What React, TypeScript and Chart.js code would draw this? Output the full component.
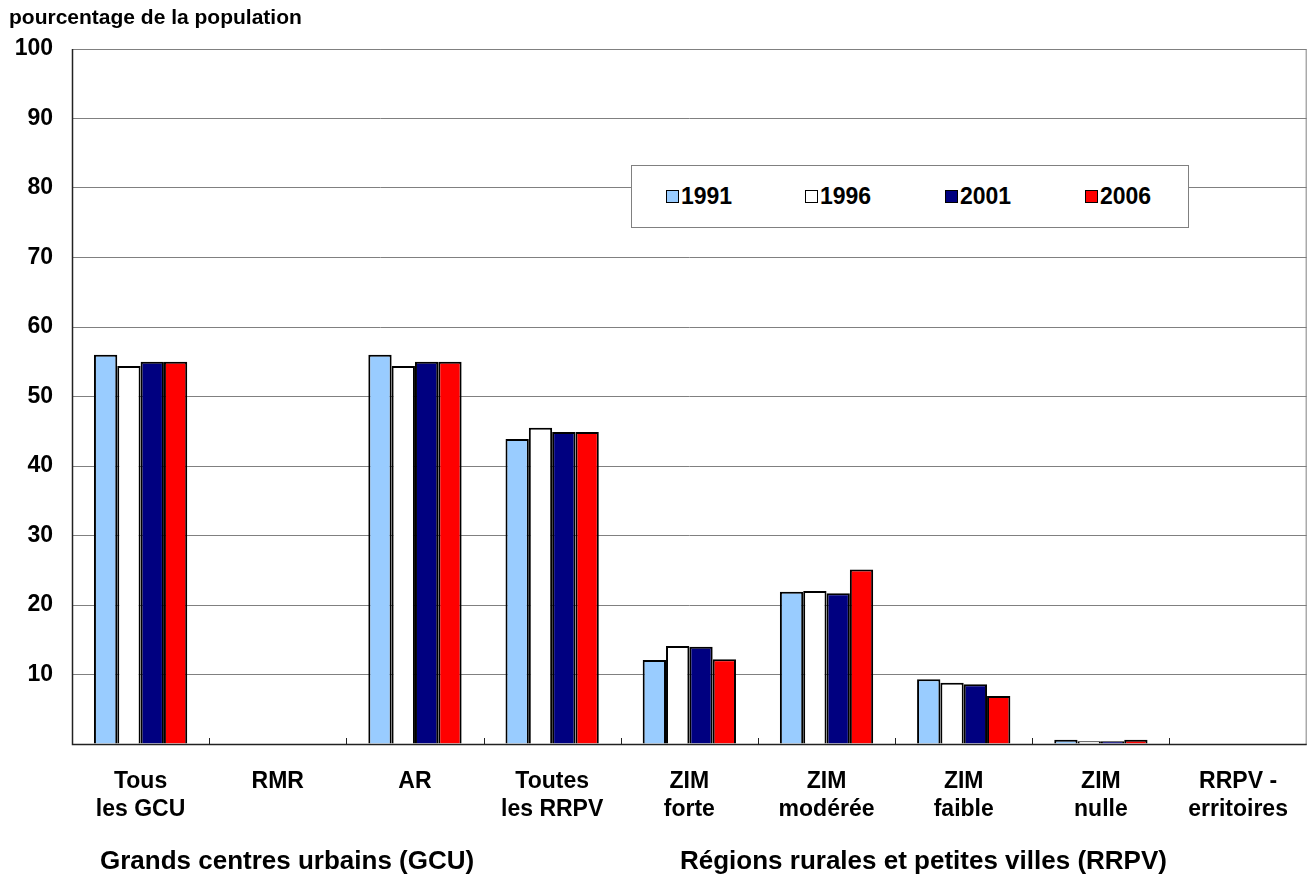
import React, { useEffect, useRef } from "react";
import { Chart, registerables } from "chart.js";

Chart.register(...registerables);

const categories: (string | string[])[] = [
  ["Tous", "les GCU"],
  "RMR",
  "AR",
  ["Toutes", "les RRPV"],
  ["ZIM", "forte"],
  ["ZIM", "modérée"],
  ["ZIM", "faible"],
  ["ZIM", "nulle"],
  ["RRPV -", "erritoires"],
];

const seriesNames = ["1991", "1996", "2001", "2006"];
const seriesColors = ["#99CCFF", "#FFFFFF", "#000080", "#FF0000"];

const values1991 = [56.0, null, 56.0, 43.9, 12.1, 21.9, 9.3, 0.6, null];
const values1996 = [54.4, null, 54.4, 45.5, 14.1, 22.0, 8.8, 0.4, null];
const values2001 = [55.0, null, 55.0, 44.9, 14.0, 21.7, 8.6, 0.4, null];
const values2006 = [55.0, null, 55.0, 44.9, 12.2, 25.1, 6.9, 0.6, null];

const yTicks = [10, 20, 30, 40, 50, 60, 70, 80, 90, 100];

const groupLabels = ["Grands centres urbains (GCU)", "Régions rurales et petites villes (RRPV)"];

const FONT = "'Liberation Sans', Arial, sans-serif";

const framePlugin = {
  id: "frame",
  afterDatasetsDraw(chart: any) {
    const { ctx, chartArea } = chart;
    const x = chart.scales.x;
    ctx.save();
    ctx.strokeStyle = "#808080";
    ctx.lineWidth = 1;
    ctx.beginPath();
    ctx.moveTo(chartArea.left, chartArea.top + 0.5);
    ctx.lineTo(chartArea.right - 0.5, chartArea.top + 0.5);
    ctx.lineTo(chartArea.right - 0.5, chartArea.bottom);
    ctx.stroke();
    ctx.strokeStyle = "#222222";
    ctx.lineWidth = 1.5;
    ctx.beginPath();
    ctx.moveTo(chartArea.left + 0.5, chartArea.top);
    ctx.lineTo(chartArea.left + 0.5, chartArea.bottom + 0.5);
    ctx.lineTo(chartArea.right, chartArea.bottom + 0.5);
    ctx.stroke();
    ctx.lineWidth = 1;
    const n = categories.length;
    for (let i = 1; i < n; i++) {
      const px = Math.round((x.getPixelForValue(i - 1) + x.getPixelForValue(i)) / 2) + 0.5;
      ctx.beginPath();
      ctx.moveTo(px, chartArea.bottom);
      ctx.lineTo(px, chartArea.bottom - 6);
      ctx.stroke();
    }
    ctx.restore();
  },
};

function App() {
  const ref = useRef<HTMLCanvasElement | null>(null);

  useEffect(() => {
    if (!ref.current) return;
    const allValues = [values1991, values1996, values2001, values2006];
    const chart = new Chart(ref.current, {
      type: "bar",
      data: {
        labels: categories,
        datasets: seriesNames.map((name, i) => ({
          label: name,
          data: allValues[i],
          backgroundColor: seriesColors[i],
          borderColor: "#000000",
          borderWidth: 2,
          categoryPercentage: 0.68,
          barPercentage: 1.0,
        })),
      },
      options: {
        animation: false,
        responsive: false,
        maintainAspectRatio: false,
        layout: { padding: { left: 0, right: 1, top: 49, bottom: 0 } },
        plugins: {
          legend: { display: false },
          tooltip: { enabled: false },
        },
        scales: {
          x: {
            grid: { display: false, drawTicks: false },
            border: { display: false },
            ticks: {
              color: "#000000",
              font: { family: FONT, size: 23, weight: "bold", lineHeight: 1.22 },
              padding: 24,
              maxRotation: 0,
              autoSkip: false,
            },
            afterFit(scale: any) {
              scale.height = 134;
            },
          },
          y: {
            min: 0,
            max: 100,
            grid: { color: "#808080", lineWidth: 1, drawTicks: false },
            border: { display: false },
            afterBuildTicks(scale: any) {
              scale.ticks = [0, ...yTicks].map((v) => ({ value: v }));
            },
            ticks: {
              color: "#000000",
              font: { family: FONT, size: 23, weight: "bold" },
              padding: 19,
              callback: (v: any) => (v === 0 ? "" : String(v)),
            },
            afterFit(scale: any) {
              scale.width = 72;
            },
          },
        },
      },
      plugins: [framePlugin],
    });
    return () => chart.destroy();
  }, []);

  const legendX = [666, 805, 945, 1085];

  return (
    <div style={{ position: "absolute", left: 0, top: 0, width: 1312, height: 878, background: "#fff", fontFamily: FONT }}>
      <canvas ref={ref} width={1312} height={878} style={{ position: "absolute", left: 0, top: 0 }} />
      <div style={{ position: "absolute", left: 9, top: 5, fontSize: 21, lineHeight: "24px", fontWeight: "bold", color: "#000", whiteSpace: "nowrap" }}>
        pourcentage de la population
      </div>
      <div
        style={{
          position: "absolute",
          left: 631,
          top: 165,
          width: 556,
          height: 61,
          border: "1px solid #808080",
          background: "#fff",
        }}
      />
      {seriesNames.map((name, i) => (
        <div
          key={name}
          style={{
            position: "absolute",
            left: legendX[i],
            top: 182,
            height: 28,
            display: "flex",
            alignItems: "center",
            fontSize: 23,
            fontWeight: "bold",
            color: "#000",
            whiteSpace: "nowrap",
          }}
        >
          <span
            style={{
              display: "inline-block",
              width: 11,
              height: 11,
              border: "1px solid #000",
              background: seriesColors[i],
              marginRight: 2,
            }}
          />
          {name}
        </div>
      ))}
      <div style={{ position: "absolute", left: 100, top: 845, fontSize: 26, lineHeight: "30px", fontWeight: "bold", color: "#000", whiteSpace: "nowrap" }}>
        {groupLabels[0]}
      </div>
      <div style={{ position: "absolute", left: 680, top: 845, fontSize: 26, lineHeight: "30px", fontWeight: "bold", color: "#000", whiteSpace: "nowrap" }}>
        {groupLabels[1]}
      </div>
    </div>
  );
}

export default App;
